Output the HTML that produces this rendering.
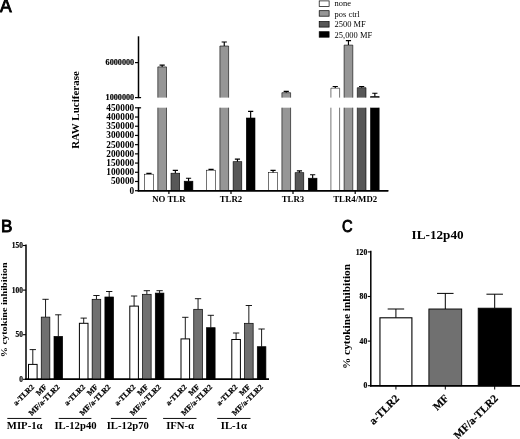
<!DOCTYPE html>
<html><head><meta charset="utf-8"><title>Figure</title>
<style>
html,body{margin:0;padding:0;background:#fff;}
body{width:520px;height:439px;overflow:hidden;}
svg{display:block;}
text{font-family:"Liberation Serif","DejaVu Serif",serif;font-weight:bold;fill:#000;}
.sans{font-family:"Liberation Sans","DejaVu Sans",sans-serif;font-weight:bold;}
.reg{font-weight:normal;}
</style></head><body>
<svg width="520" height="439" viewBox="0 0 520 439">
<rect width="520" height="439" fill="#fff"/>

<text x="0.0" y="12.3" font-size="17.5" text-anchor="start" class="sans" style="font-weight:normal" stroke="#000" stroke-width="0.85">A</text>
<text transform="translate(1.0 231.9) scale(1.03 1)" font-size="16.6" text-anchor="start" class="sans" style="font-weight:normal" stroke="#000" stroke-width="0.85">B</text>
<text transform="translate(341.9 232.0) scale(0.9 1)" font-size="16.3" text-anchor="start" class="sans" style="font-weight:normal" stroke="#000" stroke-width="0.85">C</text>
<line x1="138.5" y1="36.3" x2="138.5" y2="98.2" stroke="#000" stroke-width="1.5"/>
<line x1="138.5" y1="107.2" x2="138.5" y2="191.45" stroke="#000" stroke-width="1.5"/>
<line x1="137.75" y1="190.7" x2="388.3" y2="190.7" stroke="#000" stroke-width="1.5"/>
<line x1="135.0" y1="190.7" x2="138.5" y2="190.7" stroke="#000" stroke-width="1.2"/>
<text x="134.2" y="193.7" font-size="9.3" text-anchor="end">0</text>
<line x1="135.0" y1="181.48999999999998" x2="138.5" y2="181.48999999999998" stroke="#000" stroke-width="1.2"/>
<text x="134.2" y="184.49" font-size="9.3" text-anchor="end">50000</text>
<line x1="135.0" y1="172.27999999999997" x2="138.5" y2="172.27999999999997" stroke="#000" stroke-width="1.2"/>
<text x="134.2" y="175.28" font-size="9.3" text-anchor="end">100000</text>
<line x1="135.0" y1="163.07" x2="138.5" y2="163.07" stroke="#000" stroke-width="1.2"/>
<text x="134.2" y="166.07" font-size="9.3" text-anchor="end">150000</text>
<line x1="135.0" y1="153.85999999999999" x2="138.5" y2="153.85999999999999" stroke="#000" stroke-width="1.2"/>
<text x="134.2" y="156.86" font-size="9.3" text-anchor="end">200000</text>
<line x1="135.0" y1="144.64999999999998" x2="138.5" y2="144.64999999999998" stroke="#000" stroke-width="1.2"/>
<text x="134.2" y="147.65" font-size="9.3" text-anchor="end">250000</text>
<line x1="135.0" y1="135.44" x2="138.5" y2="135.44" stroke="#000" stroke-width="1.2"/>
<text x="134.2" y="138.44" font-size="9.3" text-anchor="end">300000</text>
<line x1="135.0" y1="126.22999999999999" x2="138.5" y2="126.22999999999999" stroke="#000" stroke-width="1.2"/>
<text x="134.2" y="129.23" font-size="9.3" text-anchor="end">350000</text>
<line x1="135.0" y1="117.01999999999998" x2="138.5" y2="117.01999999999998" stroke="#000" stroke-width="1.2"/>
<text x="134.2" y="120.02" font-size="9.3" text-anchor="end">400000</text>
<line x1="135.0" y1="107.80999999999997" x2="138.5" y2="107.80999999999997" stroke="#000" stroke-width="1.2"/>
<text x="134.2" y="110.81" font-size="9.3" text-anchor="end">450000</text>
<line x1="135.0" y1="97.6" x2="138.5" y2="97.6" stroke="#000" stroke-width="1.2"/>
<text x="134.2" y="100.3" font-size="8.2" text-anchor="end" stroke="#000" stroke-width="0.2">1000000</text>
<line x1="135.0" y1="62.599999999999994" x2="138.5" y2="62.599999999999994" stroke="#000" stroke-width="1.2"/>
<text x="134.2" y="65.3" font-size="8.2" text-anchor="end" stroke="#000" stroke-width="0.2">6000000</text>
<line x1="138.5" y1="97.6" x2="141.1" y2="97.6" stroke="#000" stroke-width="1.2"/>
<line x1="138.5" y1="107.80999999999997" x2="141.1" y2="107.80999999999997" stroke="#000" stroke-width="1.2"/>
<text transform="translate(79.2 110.0) rotate(-90)" font-size="11" text-anchor="middle">RAW Luciferase</text>
<path d="M148.95 174.20V173.40M146.35 173.40H151.55" stroke="#000" stroke-width="1.15" fill="none"/>
<rect x="144.60" y="174.20" width="8.70" height="16.50" fill="#fff" stroke="#000" stroke-width="0.55"/>
<path d="M162.15 66.90V65.10M159.55 65.10H164.75" stroke="#000" stroke-width="1.15" fill="none"/>
<rect x="157.80" y="66.90" width="8.70" height="30.70" fill="#969696"/>
<rect x="157.80" y="107.7" width="8.70" height="83.00" fill="#969696"/>
<path d="M157.80 97.6V66.90H166.50V97.6M157.80 107.7V190.7M166.50 107.7V190.7" fill="none" stroke="#000" stroke-width="0.6"/>
<path d="M175.35 173.20V170.40M172.75 170.40H177.95" stroke="#000" stroke-width="1.15" fill="none"/>
<rect x="171.00" y="173.20" width="8.70" height="17.50" fill="#575757" stroke="#000" stroke-width="0.6"/>
<path d="M188.55 181.20V178.20M185.95 178.20H191.15" stroke="#000" stroke-width="1.15" fill="none"/>
<rect x="184.20" y="181.20" width="8.70" height="9.50" fill="#000" stroke="#000" stroke-width="0.6"/>
<line x1="168.9" y1="190.7" x2="168.9" y2="194.0" stroke="#000" stroke-width="1.2"/>
<text x="168.9" y="202.4" font-size="8.8" text-anchor="middle">NO TLR</text>
<path d="M211.05 170.20V169.40M208.45 169.40H213.65" stroke="#000" stroke-width="1.15" fill="none"/>
<rect x="206.70" y="170.20" width="8.70" height="20.50" fill="#fff" stroke="#000" stroke-width="0.55"/>
<path d="M224.25 46.00V42.00M221.65 42.00H226.85" stroke="#000" stroke-width="1.15" fill="none"/>
<rect x="219.90" y="46.00" width="8.70" height="51.60" fill="#969696"/>
<rect x="219.90" y="107.7" width="8.70" height="83.00" fill="#969696"/>
<path d="M219.90 97.6V46.00H228.60V97.6M219.90 107.7V190.7M228.60 107.7V190.7" fill="none" stroke="#000" stroke-width="0.6"/>
<path d="M237.45 161.70V159.10M234.85 159.10H240.05" stroke="#000" stroke-width="1.15" fill="none"/>
<rect x="233.10" y="161.70" width="8.70" height="29.00" fill="#575757" stroke="#000" stroke-width="0.6"/>
<path d="M250.65 118.00V111.30M248.05 111.30H253.25" stroke="#000" stroke-width="1.15" fill="none"/>
<rect x="246.30" y="118.00" width="8.70" height="72.70" fill="#000" stroke="#000" stroke-width="0.6"/>
<line x1="231.0" y1="190.7" x2="231.0" y2="194.0" stroke="#000" stroke-width="1.2"/>
<text x="231.0" y="202.4" font-size="8.8" text-anchor="middle">TLR2</text>
<path d="M273.05 172.70V170.40M270.45 170.40H275.65" stroke="#000" stroke-width="1.15" fill="none"/>
<rect x="268.70" y="172.70" width="8.70" height="18.00" fill="#fff" stroke="#000" stroke-width="0.55"/>
<path d="M286.25 92.70V91.30M283.65 91.30H288.85" stroke="#000" stroke-width="1.15" fill="none"/>
<rect x="281.90" y="92.70" width="8.70" height="4.90" fill="#969696"/>
<rect x="281.90" y="107.7" width="8.70" height="83.00" fill="#969696"/>
<path d="M281.90 97.6V92.70H290.60V97.6M281.90 107.7V190.7M290.60 107.7V190.7" fill="none" stroke="#000" stroke-width="0.6"/>
<path d="M299.45 172.70V170.90M296.85 170.90H302.05" stroke="#000" stroke-width="1.15" fill="none"/>
<rect x="295.10" y="172.70" width="8.70" height="18.00" fill="#575757" stroke="#000" stroke-width="0.6"/>
<path d="M312.65 178.20V174.70M310.05 174.70H315.25" stroke="#000" stroke-width="1.15" fill="none"/>
<rect x="308.30" y="178.20" width="8.70" height="12.50" fill="#000" stroke="#000" stroke-width="0.6"/>
<line x1="293.0" y1="190.7" x2="293.0" y2="194.0" stroke="#000" stroke-width="1.2"/>
<text x="293.0" y="202.4" font-size="8.8" text-anchor="middle">TLR3</text>
<path d="M335.25 88.20V86.50M332.65 86.50H337.85" stroke="#000" stroke-width="1.15" fill="none"/>
<rect x="330.90" y="88.20" width="8.70" height="9.40" fill="#fff"/>
<rect x="330.90" y="107.7" width="8.70" height="83.00" fill="#fff"/>
<path d="M330.90 97.6V88.20H339.60V97.6M330.90 107.7V190.7M339.60 107.7V190.7" fill="none" stroke="#000" stroke-width="0.55"/>
<path d="M348.45 45.10V40.60M345.85 40.60H351.05" stroke="#000" stroke-width="1.15" fill="none"/>
<rect x="344.10" y="45.10" width="8.70" height="52.50" fill="#969696"/>
<rect x="344.10" y="107.7" width="8.70" height="83.00" fill="#969696"/>
<path d="M344.10 97.6V45.10H352.80V97.6M344.10 107.7V190.7M352.80 107.7V190.7" fill="none" stroke="#000" stroke-width="0.6"/>
<path d="M361.65 87.70V86.50M359.05 86.50H364.25" stroke="#000" stroke-width="1.15" fill="none"/>
<rect x="357.30" y="87.70" width="8.70" height="9.90" fill="#575757"/>
<rect x="357.30" y="107.7" width="8.70" height="83.00" fill="#575757"/>
<path d="M357.30 97.6V87.70H366.00V97.6M357.30 107.7V190.7M366.00 107.7V190.7" fill="none" stroke="#000" stroke-width="0.6"/>
<path d="M374.85 96.50V93.20M372.25 93.20H377.45" stroke="#000" stroke-width="1.15" fill="none"/>
<rect x="370.50" y="96.50" width="8.70" height="1.10" fill="#000"/>
<rect x="370.50" y="107.7" width="8.70" height="83.00" fill="#000"/>
<path d="M370.50 97.6V96.50H379.20V97.6M370.50 107.7V190.7M379.20 107.7V190.7" fill="none" stroke="#000" stroke-width="0.6"/>
<line x1="355.20000000000005" y1="190.7" x2="355.20000000000005" y2="194.0" stroke="#000" stroke-width="1.2"/>
<text x="355.2" y="202.4" font-size="8.8" text-anchor="middle">TLR4/MD2</text>
<line x1="137.75" y1="190.7" x2="388.3" y2="190.7" stroke="#000" stroke-width="1.5"/>
<rect x="319.20" y="0.90" width="9.90" height="5.50" fill="#fff" stroke="#000" stroke-width="0.7"/>
<text x="334.6" y="6.25" font-size="8.45" text-anchor="start" class="reg">none</text>
<rect x="319.20" y="10.70" width="9.90" height="5.50" fill="#969696" stroke="#000" stroke-width="0.7"/>
<text x="334.6" y="16.650000000000002" font-size="8.45" text-anchor="start" class="reg">pos ctrl</text>
<rect x="319.20" y="21.60" width="9.90" height="5.50" fill="#575757" stroke="#000" stroke-width="0.7"/>
<text x="334.6" y="27.450000000000003" font-size="8.45" text-anchor="start" class="reg">2500 MF</text>
<rect x="319.20" y="31.70" width="9.90" height="5.50" fill="#000" stroke="#000" stroke-width="0.7"/>
<text x="334.6" y="37.75" font-size="8.45" text-anchor="start" class="reg">25,000 MF</text>
<line x1="26.0" y1="244.6" x2="26.0" y2="380.05" stroke="#000" stroke-width="1.5"/>
<line x1="25.25" y1="379.3" x2="269" y2="379.3" stroke="#000" stroke-width="1.5"/>
<line x1="23.0" y1="379.3" x2="26.0" y2="379.3" stroke="#000" stroke-width="1.1"/>
<text x="22.9" y="381.85" font-size="7.4" text-anchor="end" stroke="#000" stroke-width="0.2">0</text>
<line x1="23.0" y1="334.7" x2="26.0" y2="334.7" stroke="#000" stroke-width="1.1"/>
<text x="22.9" y="337.25" font-size="7.4" text-anchor="end" stroke="#000" stroke-width="0.2">50</text>
<line x1="23.0" y1="290.1" x2="26.0" y2="290.1" stroke="#000" stroke-width="1.1"/>
<text x="22.9" y="292.65" font-size="7.4" text-anchor="end" stroke="#000" stroke-width="0.2">100</text>
<line x1="23.0" y1="245.5" x2="26.0" y2="245.5" stroke="#000" stroke-width="1.1"/>
<text x="22.9" y="248.05" font-size="7.4" text-anchor="end" stroke="#000" stroke-width="0.2">150</text>
<text transform="translate(7.1 309.8) rotate(-90) scale(1.15 1)" font-size="8.9" text-anchor="middle">% cytokine inhibition</text>
<path d="M32.80 364.40V349.60M29.65 349.60H35.95" stroke="#000" stroke-width="0.9" fill="none"/>
<rect x="28.50" y="364.40" width="8.60" height="14.90" fill="#fff" stroke="#000" stroke-width="1.0"/>
<text transform="translate(34.7 387.5) rotate(-45)" font-size="7.7" text-anchor="end" stroke="#000" stroke-width="0.2">a-TLR2</text>
<path d="M45.55 317.10V299.30M42.40 299.30H48.70" stroke="#000" stroke-width="0.9" fill="none"/>
<rect x="41.25" y="317.10" width="8.60" height="62.20" fill="#707070" stroke="#000" stroke-width="0.7"/>
<text transform="translate(47.4 387.5) rotate(-45)" font-size="7.7" text-anchor="end" stroke="#000" stroke-width="0.2">MF</text>
<path d="M58.30 336.40V314.80M55.15 314.80H61.45" stroke="#000" stroke-width="0.9" fill="none"/>
<rect x="54.00" y="336.40" width="8.60" height="42.90" fill="#000" stroke="#000" stroke-width="0.7"/>
<text transform="translate(60.2 387.5) rotate(-45)" font-size="7.7" text-anchor="end" stroke="#000" stroke-width="0.2">MF/a-TLR2</text>
<path d="M83.70 323.30V318.10M80.55 318.10H86.85" stroke="#000" stroke-width="0.9" fill="none"/>
<rect x="79.40" y="323.30" width="8.60" height="56.00" fill="#fff" stroke="#000" stroke-width="1.0"/>
<text transform="translate(85.6 387.5) rotate(-45)" font-size="7.7" text-anchor="end" stroke="#000" stroke-width="0.2">a-TLR2</text>
<path d="M96.45 299.30V295.50M93.30 295.50H99.60" stroke="#000" stroke-width="0.9" fill="none"/>
<rect x="92.15" y="299.30" width="8.60" height="80.00" fill="#707070" stroke="#000" stroke-width="0.7"/>
<text transform="translate(98.4 387.5) rotate(-45)" font-size="7.7" text-anchor="end" stroke="#000" stroke-width="0.2">MF</text>
<path d="M109.20 297.00V291.50M106.05 291.50H112.35" stroke="#000" stroke-width="0.9" fill="none"/>
<rect x="104.90" y="297.00" width="8.60" height="82.30" fill="#000" stroke="#000" stroke-width="0.7"/>
<text transform="translate(111.1 387.5) rotate(-45)" font-size="7.7" text-anchor="end" stroke="#000" stroke-width="0.2">MF/a-TLR2</text>
<path d="M134.10 306.10V296.00M130.95 296.00H137.25" stroke="#000" stroke-width="0.9" fill="none"/>
<rect x="129.80" y="306.10" width="8.60" height="73.20" fill="#fff" stroke="#000" stroke-width="1.0"/>
<text transform="translate(136.0 387.5) rotate(-45)" font-size="7.7" text-anchor="end" stroke="#000" stroke-width="0.2">a-TLR2</text>
<path d="M146.85 294.30V290.70M143.70 290.70H150.00" stroke="#000" stroke-width="0.9" fill="none"/>
<rect x="142.55" y="294.30" width="8.60" height="85.00" fill="#707070" stroke="#000" stroke-width="0.7"/>
<text transform="translate(148.8 387.5) rotate(-45)" font-size="7.7" text-anchor="end" stroke="#000" stroke-width="0.2">MF</text>
<path d="M159.60 293.10V290.70M156.45 290.70H162.75" stroke="#000" stroke-width="0.9" fill="none"/>
<rect x="155.30" y="293.10" width="8.60" height="86.20" fill="#000" stroke="#000" stroke-width="0.7"/>
<text transform="translate(161.5 387.5) rotate(-45)" font-size="7.7" text-anchor="end" stroke="#000" stroke-width="0.2">MF/a-TLR2</text>
<path d="M185.30 338.90V317.30M182.15 317.30H188.45" stroke="#000" stroke-width="0.9" fill="none"/>
<rect x="181.00" y="338.90" width="8.60" height="40.40" fill="#fff" stroke="#000" stroke-width="1.0"/>
<text transform="translate(187.2 387.5) rotate(-45)" font-size="7.7" text-anchor="end" stroke="#000" stroke-width="0.2">a-TLR2</text>
<path d="M198.05 309.30V298.70M194.90 298.70H201.20" stroke="#000" stroke-width="0.9" fill="none"/>
<rect x="193.75" y="309.30" width="8.60" height="70.00" fill="#707070" stroke="#000" stroke-width="0.7"/>
<text transform="translate(200.0 387.5) rotate(-45)" font-size="7.7" text-anchor="end" stroke="#000" stroke-width="0.2">MF</text>
<path d="M210.80 327.70V315.30M207.65 315.30H213.95" stroke="#000" stroke-width="0.9" fill="none"/>
<rect x="206.50" y="327.70" width="8.60" height="51.60" fill="#000" stroke="#000" stroke-width="0.7"/>
<text transform="translate(212.7 387.5) rotate(-45)" font-size="7.7" text-anchor="end" stroke="#000" stroke-width="0.2">MF/a-TLR2</text>
<path d="M236.10 339.50V333.00M232.95 333.00H239.25" stroke="#000" stroke-width="0.9" fill="none"/>
<rect x="231.80" y="339.50" width="8.60" height="39.80" fill="#fff" stroke="#000" stroke-width="1.0"/>
<text transform="translate(238.0 387.5) rotate(-45)" font-size="7.7" text-anchor="end" stroke="#000" stroke-width="0.2">a-TLR2</text>
<path d="M248.85 323.30V305.50M245.70 305.50H252.00" stroke="#000" stroke-width="0.9" fill="none"/>
<rect x="244.55" y="323.30" width="8.60" height="56.00" fill="#707070" stroke="#000" stroke-width="0.7"/>
<text transform="translate(250.8 387.5) rotate(-45)" font-size="7.7" text-anchor="end" stroke="#000" stroke-width="0.2">MF</text>
<path d="M261.60 346.70V329.00M258.45 329.00H264.75" stroke="#000" stroke-width="0.9" fill="none"/>
<rect x="257.30" y="346.70" width="8.60" height="32.60" fill="#000" stroke="#000" stroke-width="0.7"/>
<text transform="translate(263.5 387.5) rotate(-45)" font-size="7.7" text-anchor="end" stroke="#000" stroke-width="0.2">MF/a-TLR2</text>
<text x="24.7" y="429.0" font-size="10.7" text-anchor="middle">MIP-1α</text>
<text x="75.5" y="429.0" font-size="10.7" text-anchor="middle">IL-12p40</text>
<text x="127.8" y="429.0" font-size="10.7" text-anchor="middle">IL-12p70</text>
<text x="180.1" y="429.0" font-size="10.7" text-anchor="middle">IFN-α</text>
<text x="233.8" y="429.0" font-size="10.7" text-anchor="middle">IL-1α</text>
<line x1="25.25" y1="379.3" x2="269" y2="379.3" stroke="#000" stroke-width="1.5"/>
<line x1="7.3" y1="418.45" x2="41.3" y2="418.45" stroke="#000" stroke-width="0.95"/>
<line x1="58.7" y1="418.45" x2="91.4" y2="418.45" stroke="#000" stroke-width="0.95"/>
<line x1="110.9" y1="418.45" x2="146.8" y2="418.45" stroke="#000" stroke-width="0.95"/>
<line x1="163.1" y1="418.45" x2="196.5" y2="418.45" stroke="#000" stroke-width="0.95"/>
<line x1="217.2" y1="418.45" x2="250.5" y2="418.45" stroke="#000" stroke-width="0.95"/>
<line x1="370.8" y1="250.8" x2="370.8" y2="386.45" stroke="#000" stroke-width="1.5"/>
<line x1="370.05" y1="385.7" x2="520" y2="385.7" stroke="#000" stroke-width="1.5"/>
<line x1="367.8" y1="385.7" x2="370.8" y2="385.7" stroke="#000" stroke-width="1.1"/>
<text x="367.2" y="388.3" font-size="7.6" text-anchor="end" stroke="#000" stroke-width="0.2">0</text>
<line x1="367.8" y1="341.09999999999997" x2="370.8" y2="341.09999999999997" stroke="#000" stroke-width="1.1"/>
<text x="367.2" y="343.7" font-size="7.6" text-anchor="end" stroke="#000" stroke-width="0.2">40</text>
<line x1="367.8" y1="296.5" x2="370.8" y2="296.5" stroke="#000" stroke-width="1.1"/>
<text x="367.2" y="299.1" font-size="7.6" text-anchor="end" stroke="#000" stroke-width="0.2">80</text>
<line x1="367.8" y1="251.89999999999998" x2="370.8" y2="251.89999999999998" stroke="#000" stroke-width="1.1"/>
<text x="367.2" y="254.5" font-size="7.6" text-anchor="end" stroke="#000" stroke-width="0.2">120</text>
<text transform="translate(350.4 316.5) rotate(-90) scale(1.05 1)" font-size="10.8" text-anchor="middle">% cytokine inhibition</text>
<text x="437.6" y="239.3" font-size="13.2" text-anchor="middle">IL-12p40</text>
<path d="M395.92 317.80V309.00M387.67 309.00H404.17" stroke="#000" stroke-width="1.0" fill="none"/>
<rect x="379.95" y="317.80" width="31.95" height="67.90" fill="#fff" stroke="#000" stroke-width="1.1"/>
<line x1="395.92499999999995" y1="385.7" x2="395.92499999999995" y2="389.5" stroke="#000" stroke-width="1.0"/>
<text transform="translate(399.9 399.0) rotate(-45)" font-size="11.0" text-anchor="end" stroke="#000" stroke-width="0.2">a-TLR2</text>
<path d="M445.30 309.00V293.40M437.05 293.40H453.55" stroke="#000" stroke-width="1.0" fill="none"/>
<rect x="428.90" y="309.00" width="32.80" height="76.70" fill="#707070" stroke="#000" stroke-width="0.9"/>
<line x1="445.29999999999995" y1="385.7" x2="445.29999999999995" y2="389.5" stroke="#000" stroke-width="1.0"/>
<text transform="translate(449.3 399.0) rotate(-45)" font-size="11.0" text-anchor="end" stroke="#000" stroke-width="0.2">MF</text>
<path d="M494.70 308.20V294.20M486.45 294.20H502.95" stroke="#000" stroke-width="1.0" fill="none"/>
<rect x="478.20" y="308.20" width="33.00" height="77.50" fill="#000" stroke="#000" stroke-width="0.9"/>
<line x1="494.7" y1="385.7" x2="494.7" y2="389.5" stroke="#000" stroke-width="1.0"/>
<text transform="translate(498.7 399.0) rotate(-45)" font-size="11.0" text-anchor="end" stroke="#000" stroke-width="0.2">MF/a-TLR2</text>
<line x1="370.05" y1="385.7" x2="520" y2="385.7" stroke="#000" stroke-width="1.5"/>
</svg></body></html>
